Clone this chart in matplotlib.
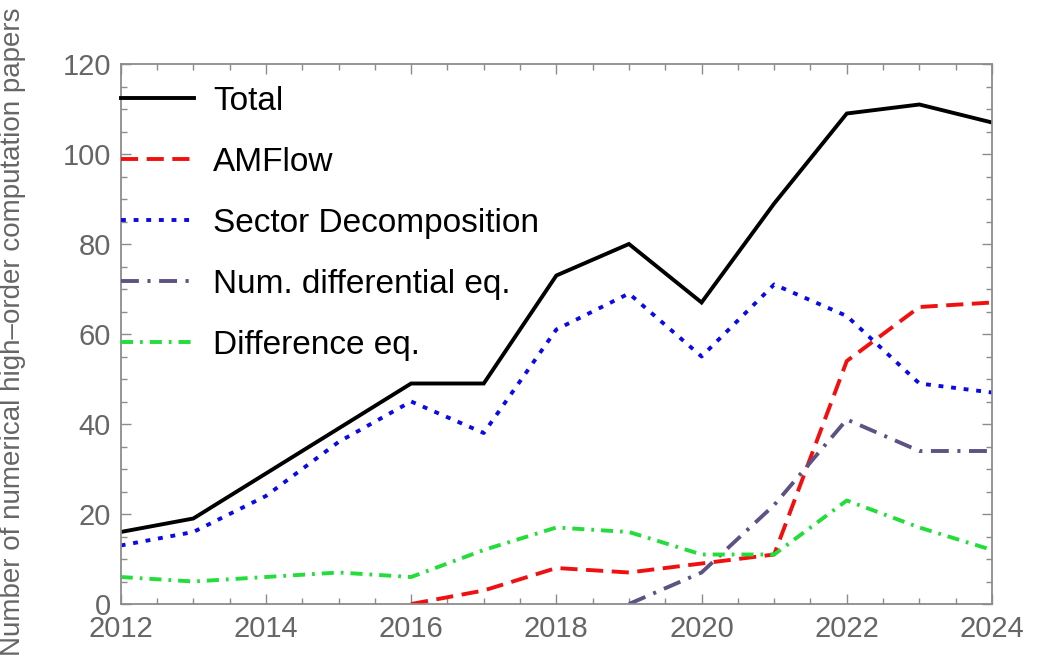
import numpy as np
import matplotlib
matplotlib.use("Agg")
import matplotlib.pyplot as plt
from matplotlib.ticker import MultipleLocator

plt.rcParams['font.family'] = ['Liberation Sans', 'DejaVu Sans']

years = [2012, 2013, 2014, 2015, 2016, 2017, 2018, 2019, 2020, 2021, 2022, 2023, 2024]
total = [16, 19, 29, 39, 49, 49, 73, 80, 67, 89, 109, 111, 107]
amflow = [np.nan, np.nan, np.nan, np.nan, 0, 3, 8, 7, 9, 11, 54, 66, 67]
sector = [13, 16, 24, 36, 45, 38, 61, 69, 55, 71, 64, 49, 47]
numdiff = [np.nan, np.nan, np.nan, np.nan, np.nan, np.nan, np.nan, 0, 7, 22, 41, 34, 34]
diffeq = [6, 5, 6, 7, 6, 12, 17, 16, 11, 11, 23, 17, 12]

labels = ["Total", "AMFlow", "Sector Decomposition", "Num. differential eq.", "Difference eq."]

fig = plt.figure(figsize=(10.45, 6.63), dpi=100)
ax = fig.add_axes([120.7 / 1045, 59 / 663, (992 - 120.7) / 1045, 540 / 663])

lw = 2.8
ax.plot(years, total, color='black', lw=lw, label=labels[0], solid_joinstyle='miter')
ax.plot(years, amflow, color='#f01010', lw=lw, dashes=(4.4, 2.2), label=labels[1],
        dash_capstyle='butt')
ax.plot(years, sector, color='#0a0ae6', lw=lw, dashes=(1.25, 2.0), label=labels[2],
        dash_capstyle='butt')
ax.plot(years, numdiff, color='#5e5282', lw=lw, dashes=(4.6, 2.2, 0.8, 2.2), label=labels[3],
        dash_capstyle='butt')
ax.plot(years, diffeq, color='#22dd3a', lw=lw, dashes=(3.1, 1.8, 0.7, 1.8), label=labels[4],
        dash_capstyle='butt')

ax.set_xlim(2012, 2024)
ax.set_ylim(0, 120)
ax.xaxis.set_major_locator(MultipleLocator(2))
ax.xaxis.set_minor_locator(MultipleLocator(0.5))
ax.yaxis.set_major_locator(MultipleLocator(20))
ax.yaxis.set_minor_locator(MultipleLocator(5))

grey = '#8c8c8c'
for s in ax.spines.values():
    s.set_color(grey)
    s.set_linewidth(1.3)
ax.tick_params(which='both', direction='in', top=True, right=True, color=grey, width=1.0,
               labelcolor='#666666', labelsize=21)
ax.tick_params(which='major', length=7.5)
ax.tick_params(which='minor', length=4.5)
ax.tick_params(axis='y', pad=7)
ax.tick_params(axis='x', pad=8)

fig.text(13.5 / 1045, (663 - 332) / 663, "Number of numerical high\u2013order computation papers",
         fontsize=20, color='#666666', rotation=90, ha='center', va='center')

leg = ax.legend(loc='upper left', bbox_to_anchor=(0.0, 0.960), frameon=False, fontsize=24,
                handlelength=2.2, handletextpad=0.57, labelspacing=0.90, borderpad=0,
                borderaxespad=0)

fig.savefig('out.png', dpi=100)
